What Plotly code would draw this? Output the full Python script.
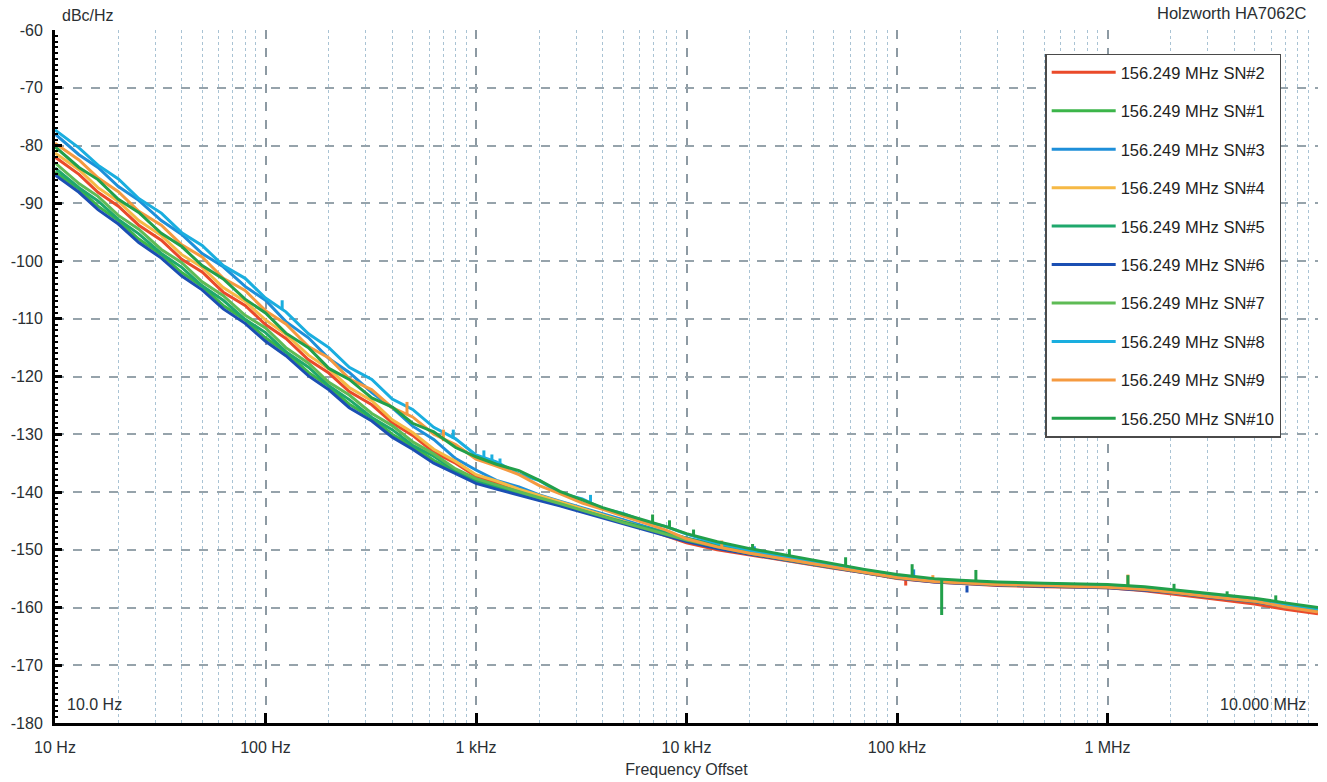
import plotly.graph_objects as go

# ---------------- data ----------------
FREQ_HZ = [10, 13, 16, 20, 25, 32, 40, 50, 63, 80,
           100, 125, 160, 200, 250, 320, 400, 500, 630, 800,
           1000, 1250, 1600, 2000, 2500, 3200, 4000, 5000, 6300, 8000,
           10000, 14000, 20000, 30000, 50000, 70000, 100000, 150000, 200000, 300000,
           500000, 700000, 1000000, 1500000, 2000000, 3000000, 5000000, 7000000, 10000000]

SERIES_NAMES = ["156.249 MHz SN#2", "156.249 MHz SN#1", "156.249 MHz SN#3",
                "156.249 MHz SN#4", "156.249 MHz SN#5", "156.249 MHz SN#6",
                "156.249 MHz SN#7", "156.249 MHz SN#8", "156.249 MHz SN#9",
                "156.250 MHz SN#10"]

SN2 = [-82.0, -85.0, -88.1, -90.5, -93.8, -96.4, -99.7, -101.9, -105.4, -107.7,
       -111.0, -113.4, -117.1, -119.4, -122.6, -124.9, -128.0, -130.2, -133.1, -135.0,
       -137.3, -138.4, -139.6, -140.7, -141.8, -143.0, -144.1, -145.1, -146.3, -147.6,
       -148.8, -150.0, -150.9, -152.0, -153.2, -154.0, -155.0, -155.6, -155.9, -156.2,
       -156.4, -156.5, -156.6, -157.1, -157.6, -158.4, -159.4, -160.3, -161.1]
SN1 = [-84.6, -87.5, -90.5, -93.0, -96.2, -98.9, -102.0, -104.4, -107.7, -110.2,
       -113.3, -115.8, -119.3, -121.7, -124.8, -127.2, -130.0, -132.1, -134.5, -136.5,
       -138.2, -139.3, -140.4, -141.3, -142.3, -143.4, -144.3, -145.3, -146.2, -147.2,
       -148.2, -149.4, -150.5, -151.6, -152.9, -153.8, -154.7, -155.4, -155.7, -155.9,
       -156.2, -156.2, -156.4, -156.8, -157.2, -158.0, -158.8, -159.7, -160.5]
SN3 = [-78.0, -81.6, -83.8, -87.1, -89.5, -93.0, -95.4, -98.7, -101.0, -104.4,
       -106.8, -110.5, -113.3, -116.9, -119.3, -122.8, -125.4, -128.6, -130.9, -134.2,
       -136.2, -138.0, -139.1, -140.5, -141.6, -142.7, -143.8, -144.8, -145.9, -147.0,
       -148.0, -149.1, -150.2, -151.4, -152.8, -153.6, -154.6, -155.2, -155.5, -155.8,
       -156.0, -156.1, -156.2, -156.6, -157.1, -157.8, -158.7, -159.5, -160.3]
SN4 = [-81.3, -84.2, -87.3, -89.7, -93.0, -95.6, -98.9, -101.1, -104.6, -107.0,
       -110.2, -112.7, -116.3, -118.7, -121.9, -124.2, -127.5, -129.7, -132.6, -134.7,
       -137.0, -138.1, -139.5, -140.6, -141.7, -142.9, -144.0, -145.0, -146.2, -147.3,
       -148.5, -149.7, -150.7, -151.8, -153.1, -153.9, -154.9, -155.5, -155.8, -156.0,
       -156.3, -156.4, -156.5, -156.9, -157.4, -158.1, -159.0, -159.9, -160.7]
SN5 = [-83.9, -87.3, -89.6, -92.8, -95.3, -98.7, -101.1, -104.3, -106.8, -110.1,
       -112.4, -115.7, -118.4, -121.6, -124.0, -127.1, -129.2, -131.9, -133.8, -136.3,
       -138.0, -139.1, -140.2, -141.2, -142.2, -143.3, -144.3, -145.2, -146.1, -147.1,
       -148.0, -149.3, -150.4, -151.5, -152.9, -153.7, -154.7, -155.3, -155.6, -155.9,
       -156.1, -156.2, -156.3, -156.7, -157.2, -157.9, -158.8, -159.6, -160.4]
SN6 = [-85.1, -88.1, -91.1, -93.6, -96.8, -99.5, -102.6, -105.0, -108.3, -110.8,
       -113.9, -116.4, -119.9, -122.3, -125.4, -127.7, -130.5, -132.6, -135.0, -136.8,
       -138.5, -139.5, -140.6, -141.5, -142.4, -143.5, -144.5, -145.5, -146.5, -147.6,
       -148.6, -149.8, -150.8, -151.8, -153.1, -154.0, -154.9, -155.6, -155.8, -156.1,
       -156.3, -156.4, -156.6, -157.0, -157.4, -158.2, -159.0, -159.9, -160.7]
SN7 = [-83.0, -86.6, -88.8, -92.1, -94.5, -98.0, -100.3, -103.6, -106.0, -109.4,
       -111.6, -115.0, -117.7, -121.0, -123.2, -126.4, -128.5, -131.3, -133.4, -136.0,
       -137.7, -138.8, -140.0, -141.0, -142.0, -143.2, -144.2, -145.3, -146.3, -147.3,
       -148.3, -149.5, -150.6, -151.7, -153.0, -153.8, -154.8, -155.4, -155.7, -156.0,
       -156.2, -156.3, -156.4, -156.8, -157.3, -158.0, -158.9, -159.7, -160.5]
SN8 = [-77.3, -80.4, -83.4, -85.8, -89.2, -91.7, -95.1, -97.3, -100.8, -103.0,
       -106.4, -108.8, -112.6, -115.0, -118.4, -120.5, -123.9, -125.7, -128.8, -130.8,
       -133.6, -134.8, -136.9, -138.0, -140.2, -141.2, -142.9, -143.7, -145.1, -146.0,
       -147.3, -148.9, -150.1, -151.2, -152.7, -153.6, -154.5, -155.2, -155.4, -155.7,
       -155.9, -156.0, -156.2, -156.6, -157.0, -157.8, -158.6, -159.4, -160.2]
SN9 = [-79.6, -82.5, -85.6, -88.0, -91.4, -93.8, -97.2, -99.3, -103.0, -105.1,
       -108.6, -110.9, -114.8, -116.8, -120.4, -122.3, -125.4, -127.0, -130.0, -131.8,
       -134.3, -135.5, -137.0, -138.9, -140.3, -141.9, -143.0, -144.2, -145.4, -146.6,
       -148.1, -149.5, -150.6, -151.7, -153.0, -153.9, -154.8, -155.5, -155.7, -156.0,
       -156.2, -156.3, -156.5, -156.9, -157.3, -158.1, -158.9, -159.9, -160.8]
SN10 = [-80.2, -83.8, -85.9, -89.3, -91.6, -95.2, -97.5, -100.8, -103.1, -106.6,
        -109.0, -112.5, -115.0, -118.6, -120.5, -123.7, -125.3, -128.1, -129.6, -132.3,
        -133.9, -135.2, -136.3, -138.0, -139.9, -141.3, -142.7, -143.8, -144.9, -146.0,
        -147.2, -148.6, -149.8, -151.0, -152.5, -153.4, -154.3, -155.0, -155.3, -155.6,
        -155.8, -155.9, -156.0, -156.4, -156.9, -157.6, -158.4, -159.2, -160.0]

# narrow spurs: frequency, level of the trace there, tip of the spur
SPUR_SN8_F = [120, 780, 1090, 1190, 1300, 3500]
SPUR_SN8_BASE = [-108.5, -130.8, -134.3, -134.9, -135.4, -141.9]
SPUR_SN8_TIP = [-106.8, -129.2, -132.8, -133.5, -134.2, -140.5]
SPUR_SN9_F = [470, 700, 14700, 148000, 1250000]
SPUR_SN9_BASE = [-126.5, -131.2, -149.6, -155.5, -156.6]
SPUR_SN9_TIP = [-124.4, -129.2, -148.4, -154.4, -154.3]
SPUR_SN10_F = [6900, 8300, 10800, 20600, 30800, 57000, 118000, 163000, 237000,
               1250000, 2070000, 3700000, 6300000]
SPUR_SN10_BASE = [-145.3, -146.2, -147.6, -149.8, -151.0, -152.7, -154.5, -155.1, -155.4,
                  -156.1, -156.9, -157.9, -158.9]
SPUR_SN10_TIP = [-143.9, -144.9, -146.5, -149.0, -149.9, -151.3, -152.5, -161.3, -153.5,
                 -154.4, -155.9, -157.2, -157.9]
SPUR_SN6_F = [215000]
SPUR_SN6_BASE = [-156.2]
SPUR_SN6_TIP = [-157.4]
SPUR_SN2_F = [110000]
SPUR_SN2_BASE = [-155.2]
SPUR_SN2_TIP = [-156.2]
SPUR_SN3_F = [21000, 120000]
SPUR_SN3_BASE = [-150.3, -155.0]
SPUR_SN3_TIP = [-149.4, -153.4]

X_TICK_VALS = [10, 100, 1000, 10000, 100000, 1000000, 10000000]
X_TICK_TEXT = ["10 Hz", "100 Hz", "1 kHz", "10 kHz", "100 kHz", "1 MHz", ""]
Y_TICK_VALS = [-180, -170, -160, -150, -140, -130, -120, -110, -100, -90, -80, -70, -60]
Y_TICK_TEXT = ["-180", "-170", "-160", "-150", "-140", "-130", "-120", "-110",
               "-100", "-90", "-80", "-70", "-60"]

# ---------------- styling ----------------
COLORS = ["#EA4A2A", "#3CB54A", "#1E8FD9", "#F6B945", "#1FA86C",
          "#1B4FB3", "#5EBB55", "#1AAEDF", "#F59A40", "#22A04A"]

SERIES_VALUES = [SN2, SN1, SN3, SN4, SN5, SN6, SN7, SN8, SN9, SN10]
SPURS = {
    "156.249 MHz SN#8": (SPUR_SN8_F, SPUR_SN8_BASE, SPUR_SN8_TIP),
    "156.249 MHz SN#9": (SPUR_SN9_F, SPUR_SN9_BASE, SPUR_SN9_TIP),
    "156.250 MHz SN#10": (SPUR_SN10_F, SPUR_SN10_BASE, SPUR_SN10_TIP),
    "156.249 MHz SN#6": (SPUR_SN6_F, SPUR_SN6_BASE, SPUR_SN6_TIP),
    "156.249 MHz SN#2": (SPUR_SN2_F, SPUR_SN2_BASE, SPUR_SN2_TIP),
    "156.249 MHz SN#3": (SPUR_SN3_F, SPUR_SN3_BASE, SPUR_SN3_TIP),
}

FONT = "Liberation Sans, Arial, sans-serif"
TXT = "#2a2f33"
LW = 3

fig = go.Figure()
for name, color, vals in zip(SERIES_NAMES, COLORS, SERIES_VALUES):
    fig.add_trace(go.Scatter(x=FREQ_HZ, y=vals, mode="lines", name=name,
                             legendgroup=name,
                             line=dict(color=color, width=LW)))
    if name in SPURS:
        sf, sb, st = SPURS[name]
        xs, ys = [], []
        for f, b, t in zip(sf, sb, st):
            xs += [f, f, None]
            ys += [b, t, None]
        fig.add_trace(go.Scatter(x=xs, y=ys, mode="lines", legendgroup=name,
                                 showlegend=False, hoverinfo="skip",
                                 line=dict(color=color, width=LW)))

minor_x = [m * 10 ** e for e in range(1, 7) for m in range(2, 10)]

fig.update_layout(
    width=1327, height=782,
    margin=dict(l=55, r=9, t=30, b=59, autoexpand=False),
    paper_bgcolor="white", plot_bgcolor="white",
    font=dict(family=FONT, size=16, color=TXT),
    showlegend=True,
    legend=dict(x=0.784, y=0.966, xanchor="left", yanchor="top",
                bgcolor="white", bordercolor="#4a4a4a", borderwidth=1.5,
                font=dict(family=FONT, size=16.5, color="#222"),
                traceorder="grouped", tracegroupgap=14, itemwidth=64),
    xaxis=dict(type="log", range=[1, 7], tickvals=X_TICK_VALS, ticktext=X_TICK_TEXT,
               ticks="inside", ticklen=10, tickwidth=2.5, tickcolor="black",
               showline=True, linecolor="black", linewidth=3,
               showgrid=True, gridcolor="#8d9aa3", griddash="dash", gridwidth=1.6,
               minor=dict(tickvals=minor_x, showgrid=True, gridcolor="#a9c3d4",
                          griddash="dot", gridwidth=1.3, ticks=""),
               zeroline=False, ticklabelstandoff=8,
               tickfont=dict(size=16, color=TXT),
               title=dict(text="Frequency Offset", standoff=9,
                          font=dict(size=16, color=TXT))),
    yaxis=dict(range=[-180, -60], tickvals=Y_TICK_VALS, ticktext=Y_TICK_TEXT,
               ticks="inside", ticklen=7, tickwidth=3, tickcolor="black",
               showline=True, linecolor="black", linewidth=3,
               showgrid=True, gridcolor="#96a3ab", griddash="dash", gridwidth=1.6,
               minor=dict(dtick=1, ticks="inside", ticklen=3, tickwidth=1.5,
                          tickcolor="black", showgrid=False),
               zeroline=False, ticklabelstandoff=6,
               tickfont=dict(size=16, color=TXT)),
    annotations=[
        dict(text="dBc/Hz", xref="paper", yref="paper", x=0.004, y=1.0,
             xanchor="left", yanchor="bottom", showarrow=False, yshift=4,
             font=dict(size=16, color=TXT)),
        dict(text="Holzworth HA7062C", xref="paper", yref="paper", x=0.993, y=1.0,
             xanchor="right", yanchor="bottom", showarrow=False, yshift=6,
             font=dict(size=16.5, color=TXT)),
        dict(text="10.0 Hz", xref="paper", yref="paper", x=0.008, y=0.026,
             xanchor="left", yanchor="middle", showarrow=False,
             font=dict(size=16, color=TXT)),
        dict(text="10.000 MHz", xref="paper", yref="paper", x=0.992, y=0.026,
             xanchor="right", yanchor="middle", showarrow=False,
             font=dict(size=16, color=TXT)),
    ],
)

fig.write_html("out.html", config={"displayModeBar": False},
               post_script="document.body.style.margin='0px';")
